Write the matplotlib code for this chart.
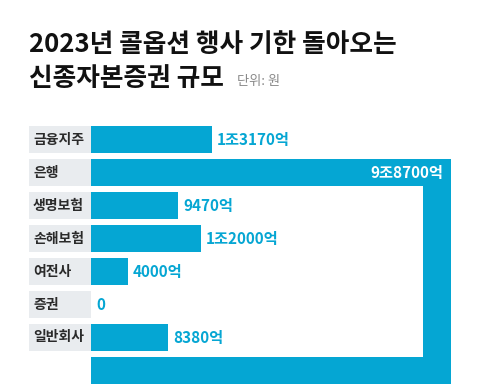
import matplotlib
matplotlib.use('Agg')
import matplotlib.pyplot as plt
from matplotlib.patches import Rectangle

plt.rcParams['font.family'] = ['Noto Sans CJK KR', 'DejaVu Sans']

categories = ['금융지주', '은행', '생명보험', '손해보험', '여전사', '증권', '일반회사']
values = [13170, 98700, 9470, 12000, 4000, 0, 8380]   # 단위: 억원
value_labels = ['1조3170억', '9조8700억', '9470억', '1조2000억', '4000억', '0', '8380억']

BLUE = '#05a6d3'
GRAY_BOX = '#e9ecef'

W, H = 480, 391
fig = plt.figure(figsize=(W / 100, H / 100), dpi=100)

# px -> figure fraction helpers
x0_px, x1_px = 29, 480
y0_px, y1_px = 123, 387
ax = fig.add_axes([x0_px / W, 1 - y1_px / H, (x1_px - x0_px) / W, (y1_px - y0_px) / H])

per_px = 109.0                 # 억 per pixel
zero_px = 91
ax.set_xlim(-(zero_px - x0_px) * per_px, (x1_px - zero_px) * per_px)
ax.set_ylim(7.5, -0.5)
ax.axis('off')

bh = 0.82
label_w = (zero_px - x0_px) * per_px

for i, (cat, v, lab) in enumerate(zip(categories, values, value_labels)):
    ax.barh(i, label_w, left=-label_w, height=bh, color=GRAY_BOX)
    ax.text(-label_w + 4 * per_px, i, cat, va='center', ha='left',
            fontsize=10, fontweight='bold', color='#2a2a2a')

    if cat == '은행':
        # bar is too long, so it folds: right, down, back left
        fold = 360 * per_px
        side = 28 * per_px
        ax.barh(i, fold, height=bh, color=BLUE)
        ax.add_patch(Rectangle((fold - side, i - bh / 2), side, 7 - i + bh,
                               color=BLUE, lw=0))
        gap = 171 * per_px
        rest = min(fold, v - fold - gap)
        ax.barh(7, rest, left=fold - rest, height=bh, color=BLUE)
        ax.text(fold - 8 * per_px, i, lab, va='center', ha='right',
                fontsize=11, fontweight='bold', color='white')
    else:
        ax.barh(i, v, height=bh, color=BLUE)
        ax.text(v + 5 * per_px, i, lab, va='center', ha='left',
                fontsize=11, fontweight='bold', color=BLUE)

fig.text(29 / W, 1 - 44 / H, '2023년 콜옵션 행사 기한 돌아오는', fontsize=18.5,
         fontweight='bold', color='#111111', va='center', ha='left')
fig.text(29 / W, 1 - 78 / H, '신종자본증권 규모', fontsize=18.5,
         fontweight='bold', color='#111111', va='center', ha='left')
fig.text(237 / W, 1 - 82 / H, '단위: 원', fontsize=9.5, color='#888888',
         va='center', ha='left')

fig.savefig('out.png', dpi=100, facecolor='white')
